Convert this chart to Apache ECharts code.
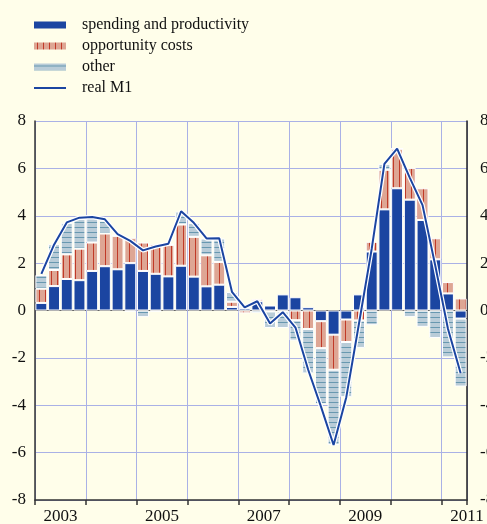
<!DOCTYPE html>
<html>
<head>
<meta charset="utf-8">
<script src="https://cdn.jsdelivr.net/npm/echarts@6/dist/echarts.min.js"></script>
<style>
  html, body { margin: 0; padding: 0; background: #fffeea; }
  #chart { width: 487px; height: 524px; }
</style>
</head>
<body>
<div id="chart"></div>
<script>
// Quarterly contributions, 2003Q1 .. 2011Q2.
const quarters = [];
for (let y = 2003; y <= 2011; y++) {
  for (let q = 1; q <= 4; q++) {
    if (y === 2011 && q > 2) break;
    quarters.push(y + "Q" + q);
  }
}

const spending = [
  0.32, 1.03, 1.33, 1.28, 1.67, 1.87, 1.74, 2.00,
  1.67, 1.55, 1.44, 1.89, 1.43, 1.02, 1.09, 0.15,
  0.10, 0.39, 0.21, 0.68, 0.56, 0.14, -0.45, -1.02,
  -0.38, 0.68, 2.49, 4.27, 5.16, 4.68, 3.82, 2.16,
  0.72, -0.34,
];
const opportunity = [
  0.60, 0.68, 1.04, 1.33, 1.20, 1.38, 1.41, 1.07,
  1.20, 1.25, 1.33, 1.74, 1.68, 1.31, 0.96, 0.22,
  -0.12, 0.10, -0.05, -0.05, -0.41, -0.78, -1.14, -1.48,
  -0.95, -0.42, 0.41, 1.67, 1.67, 1.34, 1.34, 0.89,
  0.48, 0.51,
];
const other = [
  0.58, 1.09, 1.33, 1.25, 1.03, 0.54, 0.05, -0.05,
  -0.28, -0.05, 0.05, 0.54, 0.59, 0.71, 0.99, 0.41,
  0.10, -0.10, -0.69, -0.69, -0.86, -1.87, -2.37, -3.18,
  -2.33, -1.16, -0.62, 0.25, 0, -0.28, -0.69, -1.16,
  -1.98, -2.87,
];
const realM1 = [
  1.55, 2.78, 3.72, 3.92, 3.95, 3.85, 3.22, 2.94,
  2.54, 2.70, 2.82, 4.19, 3.70, 3.04, 3.05, 0.79,
  0.13, 0.39, -0.55, -0.07, -0.72, -2.50, -4.05, -5.68,
  -3.66, -0.55, 2.60, 6.19, 6.83, 5.60, 4.45, 1.90,
  -0.77, -2.65,
];
const yearLabels = ["2003", "2005", "2007", "2009", "2011"];

const FONT = "Liberation Serif";
const BLUE = "#1b45a1";
const GRID = "#aab1e6";

// hatch fills: a 1px stroke on a tinted ground, tiled by the canvas renderer
function hatch(bg, fg, size, vertical) {
  const c = document.createElement("canvas");
  c.width = size;
  c.height = size;
  const g = c.getContext("2d");
  g.fillStyle = bg;
  g.fillRect(0, 0, size, size);
  g.fillStyle = fg;
  if (vertical) g.fillRect(Math.floor(size / 2), 0, 1, size);
  else g.fillRect(0, Math.floor(size / 2), size, 1);
  return { image: c, repeat: "repeat" };
}

// thin bar for the line's legend entry; the stray moveTo points pin the
// path's bounds to the full 32x7 icon box so it isn't stretched
const LINE_ICON = "path://M0,0L0,0M0,2.5L32,2.5L32,4.5L0,4.5ZM32,7L32,7";

const barStyle = { borderColor: "#ffffff", borderWidth: 1 };

const option = {
  backgroundColor: "#fffeea",
  animation: false,
  textStyle: { fontFamily: FONT },
  legend: {
    orient: "vertical",
    left: 34,
    top: 17,
    padding: 0,
    itemWidth: 32,
    itemHeight: 7,
    itemGap: 5,
    textStyle: { fontFamily: FONT, fontSize: 16, color: "#111", padding: [0, 0, 0, 11] },
    itemStyle: { borderWidth: 0 },
    data: [
      { name: "spending and productivity", icon: "rect" },
      { name: "opportunity costs", icon: "rect" },
      { name: "other", icon: "rect" },
      { name: "real M1", icon: LINE_ICON, itemStyle: { color: BLUE } },
    ],
  },
  grid: { left: 35, right: 20, top: 121, bottom: 24, outerBoundsMode: "none" },
  xAxis: [
    {
      type: "category",
      data: quarters,
      boundaryGap: true,
      show: false,
      axisLine: { onZero: false },
    },
    {
      type: "value",
      min: 2003,
      max: 2011.5,
      interval: 1,
      position: "bottom",
      axisLine: { show: true, onZero: false, lineStyle: { color: "#333", width: 1.5 } },
      axisTick: { show: true, length: 5, lineStyle: { color: "#333", width: 1.5 } },
      axisLabel: { show: false },
      splitLine: { show: true, lineStyle: { color: GRID, width: 1 } },
    },
    {
      type: "value",
      min: 2003,
      max: 2011.5,
      interval: 0.5,
      position: "bottom",
      axisLine: { show: false, onZero: false },
      axisTick: { show: false },
      splitLine: { show: false },
      axisLabel: {
        show: true,
        margin: 8,
        fontFamily: FONT,
        fontSize: 17,
        color: "#111",
        showMinLabel: true,
        showMaxLabel: true,
        formatter: (v) => {
          const s = String(Math.round(v - 0.5));
          return v % 1 !== 0 && yearLabels.includes(s) ? s : "";
        },
      },
    },
  ],
  yAxis: [
    {
      type: "value",
      min: -8,
      max: 8,
      interval: 2,
      position: "left",
      axisLine: { show: true, lineStyle: { color: "#333", width: 1.5 } },
      axisTick: { show: false },
      axisLabel: { margin: 9, fontFamily: FONT, fontSize: 17, color: "#111" },
      splitLine: {
        show: true,
        lineStyle: {
          width: 1,
          color: [GRID, GRID, GRID, GRID, "#666", GRID, GRID, GRID, GRID],
        },
      },
    },
    {
      type: "value",
      min: -8,
      max: 8,
      interval: 2,
      position: "right",
      axisLine: { show: true, lineStyle: { color: "#222", width: 1.5 } },
      axisTick: { show: false },
      axisLabel: { margin: 13, fontFamily: FONT, fontSize: 17, color: "#111" },
      splitLine: { show: false },
    },
  ],
  series: [
    {
      name: "spending and productivity",
      type: "bar",
      stack: "m1",
      barCategoryGap: "6%",
      itemStyle: { ...barStyle, color: BLUE },
      data: spending,
    },
    {
      name: "opportunity costs",
      type: "bar",
      stack: "m1",
      itemStyle: { ...barStyle, color: hatch("#dea694", "#c03a28", 6, true) },
      data: opportunity,
    },
    {
      name: "other",
      type: "bar",
      stack: "m1",
      itemStyle: { ...barStyle, color: hatch("#b9ccd8", "#6898b0", 5, false) },
      data: other,
    },
    {
      // white halo under the M1 line, kept out of the legend
      name: "halo",
      type: "line",
      symbol: "none",
      silent: true,
      z: 3,
      lineStyle: { color: "#ffffff", width: 4.5 },
      data: realM1,
    },
    {
      name: "real M1",
      type: "line",
      symbol: "none",
      z: 4,
      itemStyle: { color: BLUE },
      lineStyle: { color: BLUE, width: 2 },
      data: realM1,
    },
  ],
};

const chart = echarts.init(document.getElementById("chart"));
chart.setOption(option);
</script>
</body>
</html>
